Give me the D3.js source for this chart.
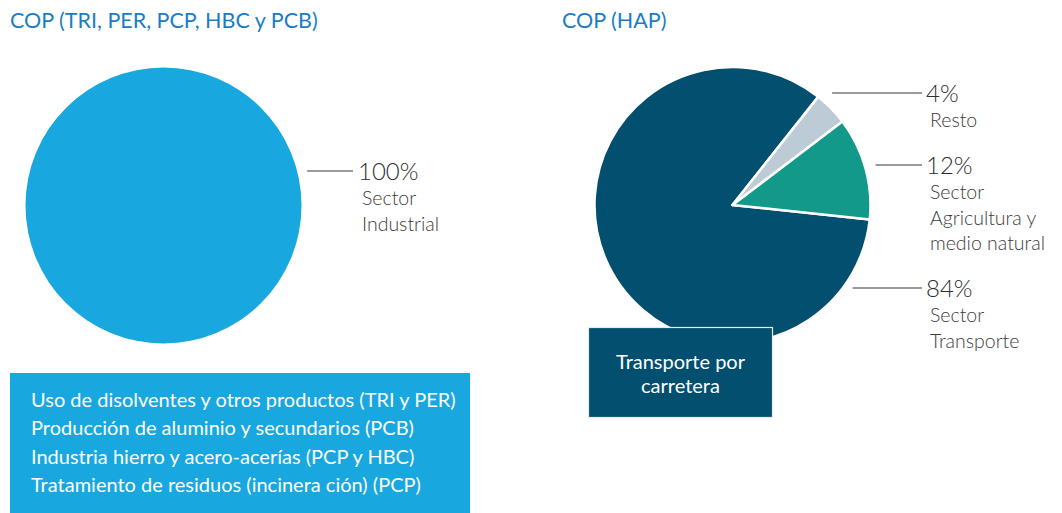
<!DOCTYPE html>
<html>
<head>
<meta charset="utf-8">
<script src="https://cdn.jsdelivr.net/npm/d3@7"></script>
<style>
  html, body { margin: 0; padding: 0; background: #fff; }
  svg { display: block; }
  text { font-family: Lato, "Open Sans", sans-serif; }
</style>
</head>
<body>
<svg id="chart" width="1062" height="513"></svg>
<script>
// ---- Data ----
const leftTitle = "COP (TRI, PER, PCP, HBC y PCB)";
const rightTitle = "COP (HAP)";

const leftCategories = ["Sector Industrial"];
const leftValues = [100];
const leftLabelLines = [["Sector", "Industrial"]];

const rightCategories = ["Sector Transporte", "Resto", "Sector Agricultura y medio natural"];
const rightValues = [84, 4, 12];
const rightLabelLines = [["Sector", "Transporte"], ["Resto"], ["Sector", "Agricultura y", "medio natural"]];

const leftSources = [
  "Uso de disolventes y otros productos (TRI y PER)",
  "Producción de aluminio y secundarios (PCB)",
  "Industria hierro y acero-acerías (PCP y HBC)",
  "Tratamiento de residuos (incinera ción) (PCP)"
];
const rightSources = ["Transporte por", "carretera"];

// ---- Styles / layout ----
const leftColors = ["#18a7df"];
const rightColors = ["#034f6f", "#bccbd6", "#13998a"];
const titleColor = "#1a7dc4";
const labelColor = "#3c3c3c";
const lineColor = "#7a7a7a";

const svg = d3.select("#chart");
const R = 138;

// Titles
svg.append("text").attr("x", 10).attr("y", 28).attr("fill", titleColor)
  .style("font-size", "21.5px").text(leftTitle);
svg.append("text").attr("x", 562).attr("y", 28).attr("fill", titleColor)
  .style("font-size", "21.5px").text(rightTitle);

function drawPie(cx, cy, values, colors, startAngle, labelYs, labelX, lineEndX, gaps, percentLabels, lines) {
  const pie = d3.pie().sort(null).value(d => d)
    .startAngle(startAngle).endAngle(startAngle + 2 * Math.PI);
  const arc = d3.arc().innerRadius(0).outerRadius(R);
  const g = svg.append("g").attr("transform", `translate(${cx},${cy})`);
  const arcs = pie(values);
  g.selectAll("path").data(arcs).join("path")
    .attr("d", arc)
    .attr("fill", (d, i) => colors[i])
    .attr("stroke", values.length > 1 ? "#fff" : "none")
    .attr("stroke-width", 2.5)
    .attr("stroke-linejoin", "round");

  arcs.forEach((d, i) => {
    const y = labelYs[i];
    const dy = y - cy;
    const dx = Math.sqrt(Math.max(0, R * R - dy * dy));
    const x0 = cx + dx + gaps[i];
    svg.append("line").attr("x1", x0).attr("x2", lineEndX).attr("y1", y).attr("y2", y)
      .attr("stroke", lineColor).attr("stroke-width", 1.3);
    svg.append("text").attr("x", labelX - 4).attr("y", y + 8.5)
      .attr("fill", "#2e2e2e").style("font-size", "24px").style("font-weight", 300)
      .text(percentLabels[i]);
    lines[i].forEach((t, k) => {
      svg.append("text").attr("x", labelX).attr("y", y + 34 + k * 25.5)
        .attr("fill", labelColor).style("font-size", "19.5px").style("font-weight", 300)
        .text(t);
    });
  });
}

// Left pie
drawPie(163.5, 205.5, leftValues, leftColors, 0, [171], 362, 353, [10],
  leftValues.map(v => v + "%"), leftLabelLines);

// Right pie
const startDeg = 96;
drawPie(732.5, 205, rightValues, rightColors, startDeg * Math.PI / 180,
  [288, 93, 165], 930, 922, [10, 19, 11],
  rightValues.map(v => v + "%"), rightLabelLines);

// Left source box
svg.append("rect").attr("x", 10).attr("y", 373).attr("width", 460).attr("height", 140)
  .attr("fill", "#18a7df");
leftSources.forEach((t, i) => {
  svg.append("text").attr("x", 31).attr("y", 406.5 + i * 28.5)
    .attr("fill", "#fff").style("font-size", "20px").text(t);
});

// Right source box
svg.append("rect").attr("x", 588.5).attr("y", 327.5).attr("width", 184).attr("height", 90)
  .attr("fill", "#034f6f").attr("stroke", "#e6eef3").attr("stroke-width", 1.2);
rightSources.forEach((t, i) => {
  svg.append("text").attr("x", 680.5).attr("y", 368.5 + i * 24.5)
    .attr("text-anchor", "middle")
    .attr("fill", "#fff").style("font-size", "20px").text(t);
});
</script>
</body>
</html>
